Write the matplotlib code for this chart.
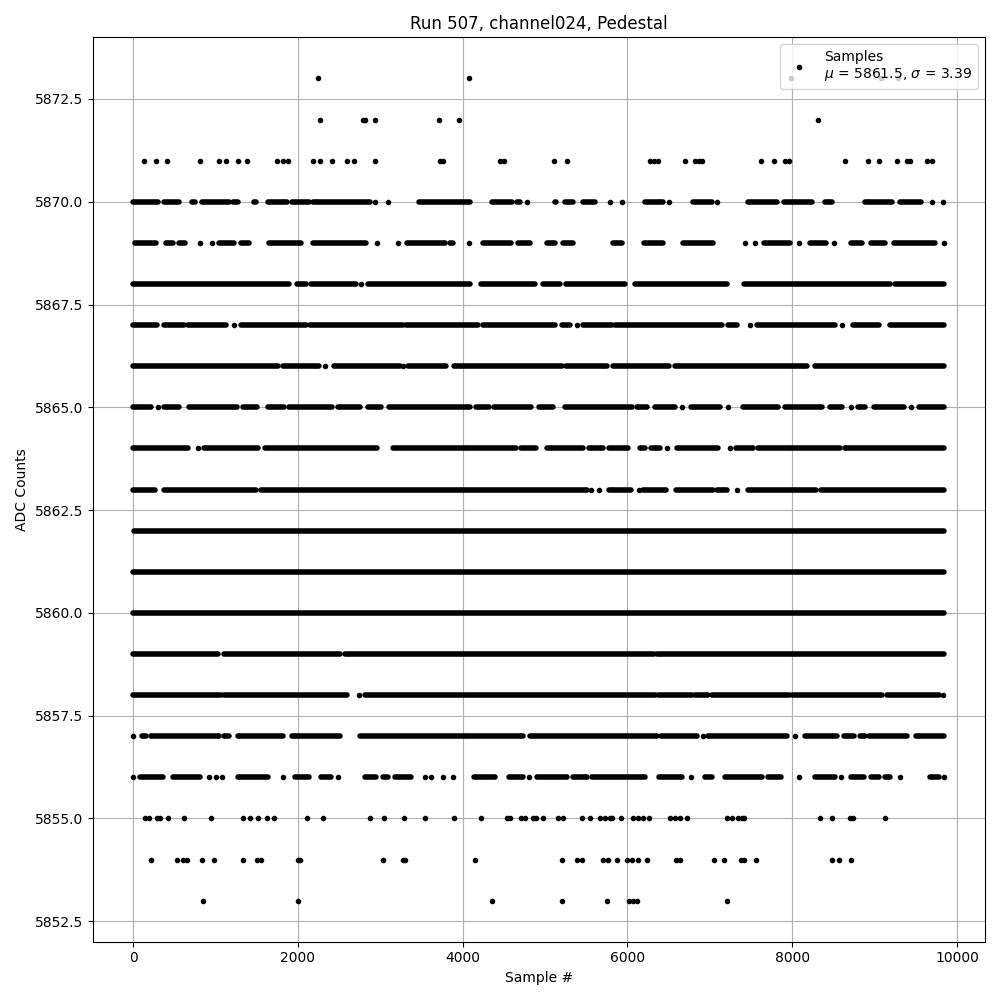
import matplotlib
matplotlib.use('Agg')
import matplotlib.pyplot as plt

# Pedestal samples: for each ADC level, the stretches of
# sample numbers where dots sit, as (first, last).  A single dot is (x, x).
run_5873 = [(2238, 2238), (4074, 4074), (7990, 7990), (9084, 9084), (9280, 9280)]
run_5872 = [(2266, 2266), (2790, 2790), (2820, 2820), (2931, 2931), (3709, 3709),
            (3952, 3952), (8318, 8318)]
run_5871 = [(x, x) for x in [125, 271, 405, 806, 1037, 1122, 1268, 1378, 1743, 1816,
                             1881, 2180, 2262, 2412, 2599, 2680, 2936, 3721, 3761, 4451,
                             4503, 5111, 5269, 6275, 6323, 6372, 6704, 6826, 6874, 6907,
                             7616, 7774, 7908, 7957, 8637, 8917, 9055, 9278, 9396, 9436,
                             9639, 9695]]
run_5870 = [(0, 296), (377, 560), (714, 754), (831, 1168), (1208, 1277), (1471, 1492),
            (1642, 1865), (1929, 2132), (2181, 2870), (2935, 2935), (3093, 3093),
            (3470, 4086), (4357, 4604), (4661, 4694), (4775, 4775), (5119, 5139),
            (5241, 5342), (5455, 5605), (5788, 5788), (5938, 5938), (6213, 6436),
            (6509, 6509), (6801, 7024), (7093, 7093), (7470, 7814), (7903, 8240),
            (8402, 8483), (8880, 9213), (9314, 9565), (9699, 9699), (9833, 9833)]
run_5869 = [(25, 276), (397, 478), (560, 632), (815, 815), (953, 953), (1046, 1228),
            (1309, 1411), (1654, 2039), (2181, 2829), (2955, 2955), (3214, 3214),
            (3324, 3782), (3842, 3883), (4078, 4078), (4248, 4592), (4673, 4815),
            (5018, 5119), (5220, 5334), (5828, 5930), (6201, 6436), (6679, 7044),
            (7429, 7429), (7543, 7543), (7660, 7968), (8078, 8078), (8220, 8414),
            (8511, 8511), (8714, 8848), (8957, 9123), (9241, 9740), (9841, 9841)]
run_5868 = [(0, 1897), (1990, 2092), (2160, 2708), (2760, 2760), (2850, 4086),
            (4228, 4876), (4977, 5180), (5253, 5970), (6092, 7206), (7421, 9192),
            (9245, 9845)]
run_5867 = [(0, 284), (377, 620), (661, 1127), (1228, 1228), (1309, 2100), (2148, 3275),
            (3308, 4187), (4248, 5119), (5200, 5301), (5382, 5382), (5463, 5808),
            (5848, 7145), (7226, 7328), (7490, 7490), (7571, 8523), (8605, 8605),
            (8738, 9050), (9192, 9845)]
run_5866 = [(0, 1755), (1816, 2254), (2323, 2323), (2436, 3235), (3275, 3275),
            (3336, 3794), (3891, 5200), (5253, 5747), (5820, 6509), (6578, 8179),
            (8280, 9845)]
run_5865 = [(0, 215), (296, 296), (377, 551), (681, 1257), (1338, 1500), (1634, 1836),
            (1889, 2412), (2485, 2748), (2850, 3012), (3105, 4086), (4159, 4321),
            (4378, 4835), (4929, 5099), (5240, 6051), (6112, 6234), (6335, 6578),
            (6659, 6659), (6768, 7125), (7218, 7218), (7401, 7834), (7915, 8361),
            (8463, 8605), (8714, 8714), (8795, 8888), (8998, 9354), (9448, 9448),
            (9537, 9845)]
run_5864 = [(0, 661), (782, 782), (864, 1512), (1601, 2959), (3154, 4653), (4714, 4896),
            (5026, 5463), (5536, 5699), (5772, 6011), (6152, 6213), (6282, 6396),
            (6485, 6485), (6606, 7105), (7247, 7247), (7316, 7523), (7583, 8584),
            (8645, 9845)]
run_5863 = [(0, 268), (377, 1492), (1552, 5504), (5557, 5557), (5654, 5654), (5780, 6039),
            (6144, 6144), (6193, 6465), (6586, 7036), (7085, 7206), (7328, 7328),
            (7458, 8293), (8349, 9845)]
run_5862 = [(12, 9845)]
run_5861 = [(0, 9849)]
run_5860 = [(0, 9845)]
run_5859 = [(0, 1026), (1107, 2513), (2566, 6323), (6355, 9845)]
run_5858 = [(0, 1066), (1107, 2594), (2736, 2736), (2809, 6335), (6375, 6781),
            (6821, 6983), (7024, 7956), (7997, 9091), (9152, 9780), (9833, 9833)]
run_5857 = [(0, 0), (106, 154), (215, 1046), (1107, 1168), (1277, 1816), (1929, 2505),
            (2748, 4734), (4815, 6355), (6404, 6841), (6914, 6914), (6983, 7936),
            (8029, 8029), (8159, 8544), (8625, 8746), (8827, 8880), (8929, 9395),
            (9508, 9840)]
run_5856 = [(0, 0), (81, 357), (478, 811), (924, 924), (1005, 1005), (1078, 1078),
            (1277, 1634), (1824, 1824), (1966, 2140), (2282, 2404), (2485, 2485),
            (2809, 2943), (3032, 3093), (3174, 3376), (3538, 3538), (3619, 3619),
            (3761, 3761), (3883, 3883), (4138, 4389), (4564, 4734), (4807, 4807),
            (4904, 5261), (5342, 5512), (5565, 6213), (6388, 6659), (6768, 6768),
            (6943, 7024), (7186, 7632), (7701, 7863), (8078, 8078), (8272, 8523),
            (8592, 8592), (8714, 8868), (8957, 9050), (9131, 9192), (9314, 9314),
            (9679, 9780), (9840, 9840)]
run_5855 = [(x, x) for x in [146, 195, 284, 324, 426, 612, 945, 1330, 1419, 1512, 1621,
                             1706, 2108, 2302, 2878, 3044, 3287, 3542, 3895, 4219, 4540,
                             4572, 4714, 4754, 4856, 4896, 4977, 5160, 5212, 5443, 5545,
                             5666, 5727, 5788, 5808, 5917, 6071, 6132, 6193, 6266, 6517,
                             6578, 6639, 6728, 7206, 7267, 7348, 7389, 7417, 8341, 8483,
                             8698, 8738, 9123]]
run_5854 = [(x, x) for x in [215, 527, 600, 653, 835, 977, 1330, 1500, 1552, 2006, 2031,
                             3032, 3275, 3303, 4154, 5200, 5390, 5443, 5707, 5759, 5869,
                             5998, 6059, 6132, 6242, 6590, 6639, 7056, 7178, 7377, 7417,
                             7559, 8483, 8564, 8718]]
run_5853 = [(x, x) for x in [843, 1998, 4357, 5200, 5755, 6019, 6071, 6120, 7214]]

levels = list(range(5873, 5852, -1))
runs = [run_5873, run_5872, run_5871, run_5870, run_5869, run_5868, run_5867,
        run_5866, run_5865, run_5864, run_5863, run_5862, run_5861, run_5860,
        run_5859, run_5858, run_5857, run_5856, run_5855, run_5854, run_5853]

mu = 5861.5
sigma = 3.39

fig, ax = plt.subplots(figsize=(10, 10), dpi=100)

single_x, single_y = [], []
for lvl, rr in zip(levels, runs):
    for a, b in rr:
        if a == b:
            single_x.append(a)
            single_y.append(lvl)
        else:
            lc = ax.hlines(lvl, a, b, colors='k', linewidth=4.0)
            lc.set_capstyle('round')

ax.plot(single_x, single_y, '.', color='k',
        label='Samples\n$\\mu$ = %.1f, $\\sigma$ = %.2f' % (mu, sigma))

ax.set_title('Run 507, channel024, Pedestal')
ax.set_xlabel('Sample #')
ax.set_ylabel('ADC Counts')
ax.grid(True)
ax.legend(loc='upper right')

fig.tight_layout()
fig.savefig('out.png')
